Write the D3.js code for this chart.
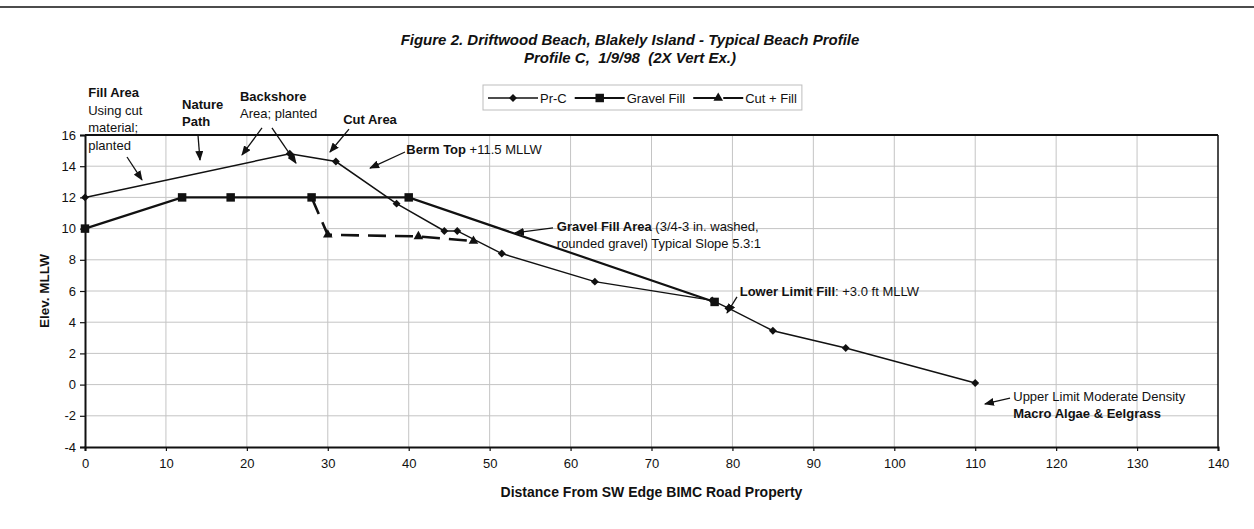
<!DOCTYPE html>
<html><head><meta charset="utf-8">
<script src="https://cdn.jsdelivr.net/npm/d3@7"></script>
<style>
body{margin:0;background:#fff}
text{font-family:Arial,"Liberation Sans",Helvetica,sans-serif;fill:#111}
</style>
</head><body>
<svg id="c" width="1254" height="529"></svg>
<script>
// ---------- data ----------
const titleLines = ["Figure 2. Driftwood Beach, Blakely Island - Typical Beach Profile",
                    "Profile C,  1/9/98  (2X Vert Ex.)"];
const xTickValues = [0,10,20,30,40,50,60,70,80,90,100,110,120,130,140];
const yTickValues = [-4,-2,0,2,4,6,8,10,12,14,16];
const xTitle = "Distance From SW Edge BIMC Road Property";
const yTitle = "Elev. MLLW";
const seriesNames = ["Pr-C","Gravel Fill","Cut + Fill"];

const prcX = [0, 25.3, 31, 38.5, 44.4, 46, 51.5, 63, 77.5, 79.5, 85, 94, 110];
const prcY = [12, 14.8, 14.3, 11.6, 9.85, 9.85, 8.4, 6.6, 5.4, 4.9, 3.45, 2.35, 0.1];
const gravelX = [0, 12, 18, 28, 40, 77.8];
const gravelY = [10, 12, 12, 12, 12, 5.3];
const cutX = [28, 30, 41.2, 48];
const cutY = [12, 9.6, 9.5, 9.2];

// annotations (text in data units; segments [text, bold])
const notes = [
  {x:0.4, y:18.42, lines:[[["Fill Area",true]],[["Using cut",false]],[["material;",false]],[["planted",false]]]},
  {x:12.0, y:17.67, lines:[[["Nature",true]],[["Path",true]]]},
  {x:19.15, y:18.2, lines:[[["Backshore",true]],[["Area; planted",false]]]},
  {x:31.9, y:16.72, lines:[[["Cut Area",true]]]},
  {x:39.7, y:14.8, lines:[[["Berm Top",true],[" +11.5 MLLW",false]]]},
  {x:58.3, y:9.85, lines:[[["Gravel Fill Area",true],[" (3/4-3 in. washed,",false]],[["rounded gravel) Typical Slope 5.3:1",false]]]},
  {x:80.9, y:5.68, lines:[[["Lower Limit Fill",true],[": +3.0 ft MLLW",false]]]},
  {x:114.7, y:-1.05, lines:[[["Upper Limit Moderate Density",false]],[["Macro Algae & Eelgrass",true]]]}
];
const arrows = [
  [5.19,14.59, 7.04,13.12],
  [13.96,16.0, 14.21,14.4],
  [21.87,16.45, 19.4,14.72],
  [23.1,16.45, 26.07,14.2],
  [32.62,16.38, 30.27,14.91],
  [39.54,14.91, 35.22,13.88],
  [57.83,10.04, 53.13,9.72],
  [80.56,5.62, 79.33,4.59],
  [114.3,-0.86, 111.2,-1.24]
];

// ---------- drawing ----------
const svg = d3.select('#c');
const x = d3.scaleLinear().domain([0,140]).range([85,1218]);
const y = d3.scaleLinear().domain([-4,16]).range([447,135]);

svg.append('rect').attr('width',1254).attr('height',529).attr('fill','#fff');

// top rule
svg.append('line').attr('x1',0).attr('x2',1254).attr('y1',7).attr('y2',7)
   .attr('stroke','#111').attr('stroke-width',1.5);

// title
svg.selectAll('text.title').data(titleLines).join('text')
  .attr('x',630).attr('y',(d,i)=>45+i*18)
  .attr('text-anchor','middle').attr('font-size',15).style('white-space','pre')
  .attr('font-weight','bold').attr('font-style','italic').text(d=>d);

// grid
svg.append('g').selectAll('line').data(xTickValues.filter(v=>v>0&&v<140)).join('line')
  .attr('x1',d=>x(d)).attr('x2',d=>x(d)).attr('y1',y(16)).attr('y2',y(-4))
  .attr('stroke','#c4c4c4').attr('stroke-width',1);
svg.append('g').selectAll('line').data(yTickValues.filter(v=>v>-4&&v<16)).join('line')
  .attr('x1',x(0)).attr('x2',x(140)).attr('y1',d=>y(d)).attr('y2',d=>y(d))
  .attr('stroke','#c4c4c4').attr('stroke-width',1);

// border top/right
svg.append('line').attr('x1',x(0)).attr('x2',x(140)).attr('y1',y(16)).attr('y2',y(16))
  .attr('stroke','#111').attr('stroke-width',2);
svg.append('line').attr('x1',x(140)).attr('x2',x(140)).attr('y1',y(16)).attr('y2',y(-4))
  .attr('stroke','#111').attr('stroke-width',1.5);

// axes
const fmt = d => String(d);
const xAxis = d3.axisBottom(x).tickValues(xTickValues).tickFormat(fmt).tickSize(4).tickPadding(8);
const gx = svg.append('g').attr('transform',`translate(0,${y(-4)})`).call(xAxis);
const yAxis = d3.axisLeft(y).tickValues(yTickValues).tickFormat(fmt).tickSize(5).tickPadding(4);
const gy = svg.append('g').attr('transform',`translate(${x(0)},0)`).call(yAxis);
[gx,gy].forEach(g=>{
  g.select('.domain').attr('stroke','#111').attr('stroke-width',2);
  g.selectAll('.tick line').attr('stroke','#111').attr('stroke-width',1.2);
  g.selectAll('.tick text').attr('font-size',13).attr('fill','#111')
    .attr('font-family','Arial, "Liberation Sans", sans-serif');
});

// axis titles
svg.append('text').attr('x',(x(0)+x(140))/2).attr('y',497).attr('text-anchor','middle')
  .attr('font-size',14).attr('font-weight','bold').text(xTitle);
svg.append('text').attr('transform',`translate(49,${(y(16)+y(-4))/2}) rotate(-90)`)
  .attr('text-anchor','middle').attr('font-size',13.5).attr('font-weight','bold').text(yTitle);

// series
const line = d3.line().x(d=>x(d[0])).y(d=>y(d[1]));
const prc = prcX.map((v,i)=>[v,prcY[i]]);
const grav = gravelX.map((v,i)=>[v,gravelY[i]]);
const cut = cutX.map((v,i)=>[v,cutY[i]]);

svg.append('path').datum(grav).attr('d',line).attr('fill','none')
  .attr('stroke','#111').attr('stroke-width',2.2);
svg.append('path').datum(prc).attr('d',line).attr('fill','none')
  .attr('stroke','#111').attr('stroke-width',1.5);
svg.append('path').datum(cut).attr('d',line).attr('fill','none')
  .attr('stroke','#111').attr('stroke-width',2.6).attr('stroke-dasharray','18,9');

const diamond = d3.symbol().type(d3.symbolDiamond2).size(40);
const square = d3.symbol().type(d3.symbolSquare).size(72);
const tri = d3.symbol().type(d3.symbolTriangle).size(40);

svg.append('g').selectAll('path').data(grav).join('path')
  .attr('d',square).attr('transform',d=>`translate(${x(d[0])},${y(d[1])})`).attr('fill','#111');
svg.append('g').selectAll('path').data(prc).join('path')
  .attr('d',diamond).attr('transform',d=>`translate(${x(d[0])},${y(d[1])})`).attr('fill','#111');
svg.append('g').selectAll('path').data(cut.slice(1)).join('path')
  .attr('d',tri).attr('transform',d=>`translate(${x(d[0])},${y(d[1])})`).attr('fill','#111');

// legend
const lg = svg.append('g');
const lgBox = lg.append('rect').attr('y',85).attr('height',25).attr('fill','#fff')
  .attr('stroke','#bdbdbd').attr('stroke-width',1);
let cx = 488;
const sampleLen = 50, ly = 98;
const markers = [diamond, square, tri];
const widths = [1.5,2.2,2.2];
seriesNames.forEach((name,i)=>{
  lg.append('line').attr('x1',cx).attr('x2',cx+sampleLen).attr('y1',ly).attr('y2',ly)
    .attr('stroke','#111').attr('stroke-width',widths[i])
    .attr('stroke-dasharray', i===2 ? '24,6' : null);
  lg.append('path').attr('d',markers[i]).attr('transform',`translate(${cx+sampleLen/2},${ly})`).attr('fill','#111');
  const t = lg.append('text').attr('x',cx+sampleLen+2).attr('y',ly+4.5).attr('font-size',13).text(name);
  cx += sampleLen + 2 + t.node().getComputedTextLength() + 8;
});
lgBox.attr('x',483).attr('width',cx-483-3);

// annotations
notes.forEach(n=>{
  n.lines.forEach((segs,li)=>{
    const t = svg.append('text').attr('x',x(n.x)).attr('y',y(n.y)+li*17.5).attr('font-size',13);
    segs.forEach(s=>t.append('tspan').attr('font-weight',s[1]?'bold':'normal').text(s[0]));
  });
});

const defs = svg.append('defs');
defs.append('marker').attr('id','ah').attr('viewBox','0 0 10 8').attr('refX',9).attr('refY',4)
  .attr('markerWidth',10).attr('markerHeight',8).attr('markerUnits','userSpaceOnUse').attr('orient','auto')
  .append('path').attr('d','M0,0 L10,4 L0,8 Z').attr('fill','#111');
svg.append('g').selectAll('line').data(arrows).join('line')
  .attr('x1',d=>x(d[0])).attr('y1',d=>y(d[1])).attr('x2',d=>x(d[2])).attr('y2',d=>y(d[3]))
  .attr('stroke','#111').attr('stroke-width',1.3).attr('marker-end','url(#ah)');
</script>
</body></html>
